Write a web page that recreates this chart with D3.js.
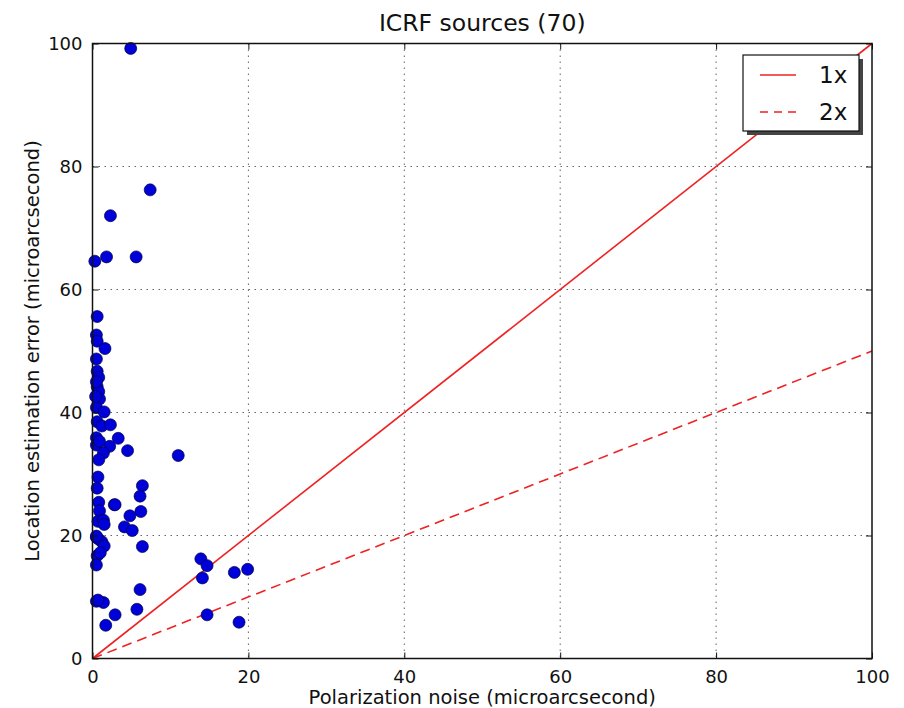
<!DOCTYPE html>
<html>
<head>
<meta charset="utf-8">
<script src="https://cdn.jsdelivr.net/npm/d3@7"></script>
<style>
  body { margin: 0; background: #fff; }
  svg { display: block; font-family: "DejaVu Sans", sans-serif; }
</style>
</head>
<body>
<div id="chart"></div>
<script>
// Polarization noise vs location estimation error, one point per ICRF source
var noiseX = [4.9, 7.4, 2.3, 0.3, 1.8, 5.6, 0.6, 0.5, 0.6, 1.6,
              0.5, 0.6, 0.8, 0.6, 0.8, 0.9, 0.5, 1.5, 0.6, 1.2,
              2.3, 0.5, 0.5, 3.3, 2.2, 4.5, 1.4, 0.8, 11.0, 0.7,
              0.6, 6.4, 6.1, 0.8, 0.9, 2.8, 2.9, 6.2, 4.8, 0.7,
              1.4, 1.5, 4.1, 5.1, 0.5, 0.8, 1.2, 1.5, 6.4, 0.6,
              0.5, 13.9, 14.7, 14.1, 18.2, 19.9, 6.1, 0.5, 1.4, 5.7,
              2.9, 14.7, 1.7, 18.8, 0.9, 0.5, 1.0, 0.5, 0.7, 0.4];
var errorY = [99.2, 76.2, 72.0, 64.6, 65.3, 65.3, 55.6, 52.6, 51.6, 50.4,
              48.7, 46.7, 45.7, 44.2, 43.4, 42.2, 40.8, 40.1, 38.5, 37.8,
              38.0, 35.9, 34.7, 35.8, 34.5, 33.8, 33.4, 32.3, 33.0, 29.5,
              27.7, 28.1, 26.4, 25.4, 24.0, 25.0, 25.0, 23.9, 23.2, 22.3,
              22.5, 21.8, 21.4, 20.8, 19.7, 19.4, 19.0, 18.3, 18.2, 16.7,
              15.2, 16.2, 15.1, 13.1, 14.0, 14.5, 11.2, 9.3, 9.1, 8.0,
              7.1, 7.1, 5.4, 5.9, 35.3, 45.0, 17.2, 19.9, 9.5, 42.6];
var ticks = [0, 20, 40, 60, 80, 100];
var refLines = [{name: "1x", slope: 1, dash: null}, {name: "2x", slope: 0.5, dash: "10,6"}];

var svgWidth = 904, svgHeight = 708;
var margin = {top: 43.5, right: 32, bottom: 49.5, left: 92.5};
var chartWidth = svgWidth - margin.left - margin.right;
var chartHeight = svgHeight - margin.top - margin.bottom;

var svg = d3.select("#chart").append("svg")
  .attr("width", svgWidth)
  .attr("height", svgHeight);

var chartGroup = svg.append("g")
  .attr("transform", `translate(${margin.left}, ${margin.top})`);

var xScale = d3.scaleLinear().domain([0, 100]).range([0, chartWidth]);
var yScale = d3.scaleLinear().domain([0, 100]).range([chartHeight, 0]);

// dotted grid
chartGroup.append("g").selectAll("line")
  .data(ticks.slice(1, -1)).enter().append("line")
  .attr("x1", d => xScale(d)).attr("x2", d => xScale(d))
  .attr("y1", 0).attr("y2", chartHeight)
  .attr("stroke", "#666").attr("stroke-width", 1).attr("stroke-dasharray", "1.5,4.5");
chartGroup.append("g").selectAll("line")
  .data(ticks.slice(1, -1)).enter().append("line")
  .attr("y1", d => yScale(d)).attr("y2", d => yScale(d))
  .attr("x1", 0).attr("x2", chartWidth)
  .attr("stroke", "#666").attr("stroke-width", 1).attr("stroke-dasharray", "1.5,4.5");

// reference lines
var line = d3.line().x(d => xScale(d[0])).y(d => yScale(d[1]));
refLines.forEach(function(r) {
  chartGroup.append("path")
    .datum([[0, 0], [100, 100 * r.slope]])
    .attr("d", line)
    .attr("fill", "none")
    .attr("stroke", "#ee2222")
    .attr("stroke-width", 1.6)
    .attr("stroke-dasharray", r.dash);
});

// points
var points = noiseX.map((x, i) => ({x: x, y: errorY[i]}));
chartGroup.selectAll("circle")
  .data(points).enter().append("circle")
  .attr("cx", d => xScale(d.x))
  .attr("cy", d => yScale(d.y))
  .attr("r", 6)
  .attr("fill", "#0000d8")
  .attr("stroke", "#000044")
  .attr("stroke-width", 0.7);

// axes: inward ticks on all four sides
var bottomAxis = d3.axisBottom(xScale).tickValues(ticks).tickSizeInner(-6).tickSizeOuter(0).tickPadding(12);
var leftAxis = d3.axisLeft(yScale).tickValues(ticks).tickSizeInner(-6).tickSizeOuter(0).tickPadding(10);
var topAxis = d3.axisTop(xScale).tickValues(ticks).tickSizeInner(-6).tickSizeOuter(0).tickFormat("");
var rightAxis = d3.axisRight(yScale).tickValues(ticks).tickSizeInner(-6).tickSizeOuter(0).tickFormat("");

chartGroup.append("g").attr("transform", `translate(0, ${chartHeight})`).call(bottomAxis);
chartGroup.append("g").call(leftAxis);
chartGroup.append("g").call(topAxis);
chartGroup.append("g").attr("transform", `translate(${chartWidth}, 0)`).call(rightAxis);

chartGroup.selectAll(".tick text")
  .attr("font-family", "DejaVu Sans")
  .attr("font-size", "18px")
  .attr("fill", "#111");
chartGroup.selectAll(".domain").remove();
chartGroup.selectAll(".tick line").attr("stroke", "#111").attr("stroke-width", 1);

// frame
chartGroup.append("rect")
  .attr("width", chartWidth).attr("height", chartHeight)
  .attr("fill", "none").attr("stroke", "#111").attr("stroke-width", 1.5);

// legend with shadow
var legend = svg.append("g").attr("transform", "translate(743, 55)");
legend.append("rect").attr("x", 4).attr("y", 4).attr("width", 116).attr("height", 76).attr("fill", "#444");
legend.append("rect").attr("width", 116).attr("height", 76)
  .attr("fill", "#fff").attr("stroke", "#111").attr("stroke-width", 1.2);
refLines.forEach(function(r, i) {
  var ly = 20 + i * 37;
  legend.append("line")
    .attr("x1", 17).attr("x2", 53).attr("y1", ly).attr("y2", ly)
    .attr("stroke", "#ee2222").attr("stroke-width", 1.6)
    .attr("stroke-dasharray", r.dash ? "8,6" : null);
  legend.append("text")
    .attr("x", 76).attr("y", ly + 8)
    .attr("font-size", "23px").attr("fill", "#111")
    .text(r.name);
});

// title and axis labels
svg.append("text")
  .attr("x", margin.left + chartWidth / 2).attr("y", 31)
  .attr("text-anchor", "middle").attr("font-size", "23.5px").attr("fill", "#111")
  .text("ICRF sources (70)");

svg.append("text")
  .attr("x", margin.left + chartWidth / 2).attr("y", 704)
  .attr("text-anchor", "middle").attr("font-size", "19.5px").attr("fill", "#111")
  .text("Polarization noise (microarcsecond)");

svg.append("text")
  .attr("transform", `translate(38.5, ${margin.top + chartHeight / 2}) rotate(-90)`)
  .attr("text-anchor", "middle").attr("font-size", "19.5px").attr("fill", "#111")
  .text("Location estimation error (microarcsecond)");
</script>
</body>
</html>
